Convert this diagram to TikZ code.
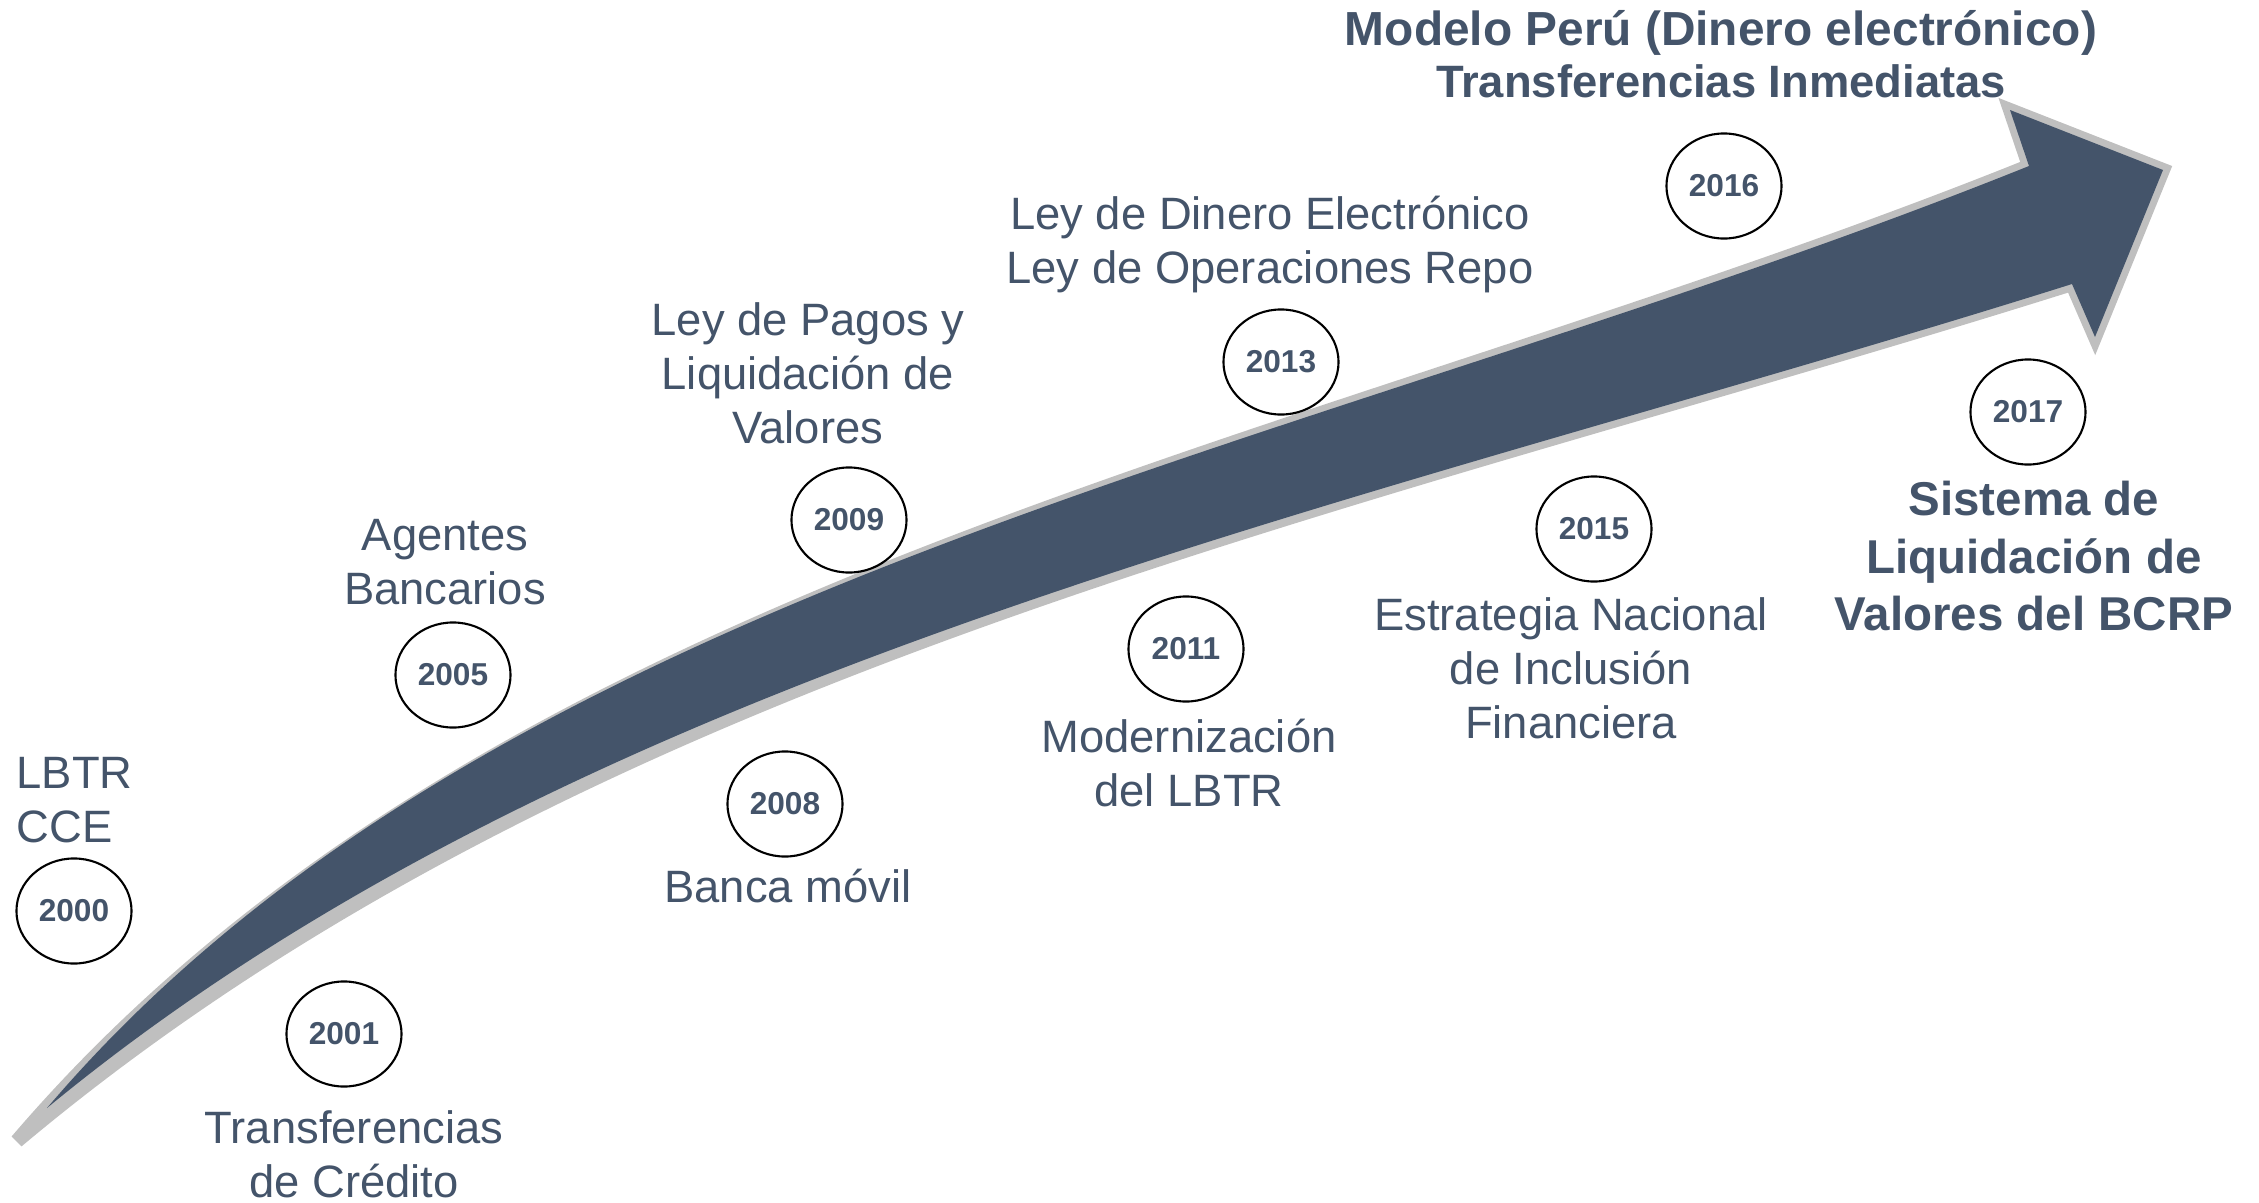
\documentclass[tikz,border=0pt]{standalone}
\usepackage{fontspec}
\setmainfont{Liberation Sans}
\usetikzlibrary{shapes.geometric}
\definecolor{txt}{HTML}{44546A}
\definecolor{arrowdark}{HTML}{44546A}
\definecolor{arrowgray}{HTML}{BFBFBF}
\newcommand{\tp}{\rule{0pt}{10.5pt}}
\begin{document}
\begin{tikzpicture}[x=0.01cm,y=-0.01cm,
  yr/.style={ellipse, draw=black, line width=0.6pt, minimum width=1.15cm, minimum height=1.05cm, inner sep=0pt, text=txt, font=\bfseries\fontsize{9}{11}\selectfont},
  lbl/.style={anchor=north, align=center, inner sep=0pt, text=txt, font=\fontsize{12.9}{15.3}\selectfont},
  blbl/.style={anchor=north, align=center, inner sep=0pt, text=txt, font=\bfseries\fontsize{13.5}{16.4}\selectfont}]
\useasboundingbox (0,0) rectangle (2259,1203);
% arrow: gray outline silhouette, then dark body
\filldraw[fill=arrowgray, draw=arrowgray, line width=4pt, line join=miter]
  (17,1141) .. controls (500,576) and (1310,455) .. (2029,166)
  -- (2010,110) -- (2163,170) -- (2095,337) -- (2072,284)
  .. controls (1355,510) and (590,660) .. (17,1141) -- cycle;
\fill[arrowdark]
  (47,1108) .. controls (500,576) and (1310,455) .. (2029,166)
  -- (2010,110) -- (2163,170) -- (2095,337) -- (2072,284)
  .. controls (1355,510) and (590,660) .. (47,1108) -- cycle;
% year circles
\node[yr] (y2000) at (74,911) {2000};
\node[yr] (y2001) at (344,1034) {2001};
\node[yr] (y2005) at (453,675) {2005};
\node[yr] (y2008) at (785,804) {2008};
\node[yr] (y2009) at (849,520) {2009};
\node[yr] (y2011) at (1186,649) {2011};
\node[yr] (y2013) at (1281,362) {2013};
\node[yr] (y2015) at (1594,529) {2015};
\node[yr] (y2016) at (1724,186) {2016};
\node[yr] (y2017) at (2028,412) {2017};
% labels
\node[lbl, anchor=north west, align=left] (l2000) at (16,751) {\tp LBTR\\CCE};
\node[lbl] (l2001) at (354,1106) {\tp Transferencias\\de Crédito};
\node[lbl] (l2005) at (445,513) {\tp Agentes\\Bancarios};
\node[lbl] (l2008) at (788,865) {\tp Banca móvil};
\node[lbl] (l2009) at (808,298) {\tp Ley de Pagos y\\Liquidación de\\Valores};
\node[lbl] (l2011) at (1189,715) {\tp Modernización\\del LBTR};
\node[lbl] (l2013) at (1270,192) {\tp Ley de Dinero Electrónico\\Ley de Operaciones Repo};
\node[lbl] (l2015) at (1571,593) {\tp Estrategia Nacional\\de Inclusión\\Financiera};
\node[blbl, font=\bfseries\fontsize{13.6}{14.8}\selectfont] (l2016) at (1721,8) {\tp Modelo Perú (Dinero electrónico)\\{\fontsize{12.9}{14.8}\selectfont Transferencias Inmediatas}};
\node[blbl] (l2017) at (2034,478) {\tp Sistema de\\Liquidación de\\Valores del BCRP};
\end{tikzpicture}
\end{document}
